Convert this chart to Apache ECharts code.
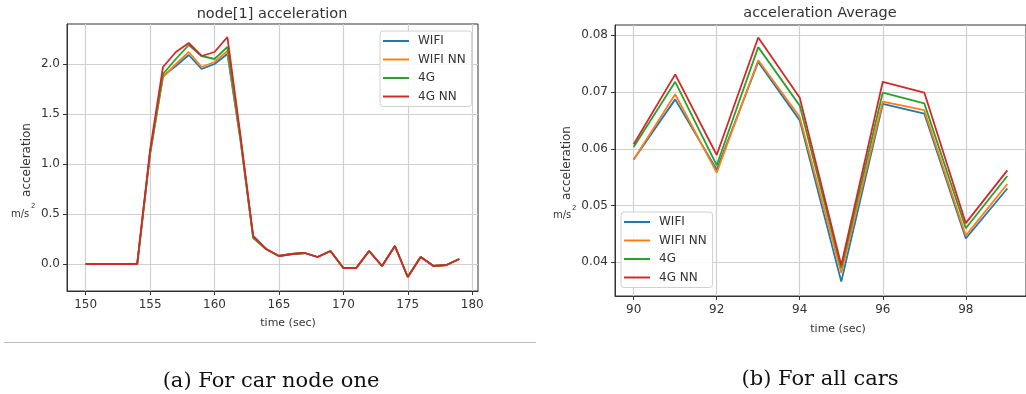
<!DOCTYPE html>
<html><head><meta charset="utf-8">
<script src="https://cdn.jsdelivr.net/npm/echarts@6/dist/echarts.min.js"></script>
<style>html,body{margin:0;padding:0;background:#fff}#c{width:1026px;height:394px}</style>
</head><body><div id="c"></div>
<script>
// ---- Left chart: node[1] acceleration ----
const timeA = [150,151,152,153,154,155,156,157,158,159,160,161,162,163,164,165,166,167,168,169,170,171,172,173,174,175,176,177,178,179];
const wifiA   = [0,0,0,0,0,1.10,1.88,1.98,2.09,1.95,2.00,2.10,1.25,0.27,0.15,0.08,0.10,0.11,0.07,0.13,-0.04,-0.04,0.13,-0.02,0.18,-0.13,0.07,-0.02,-0.01,0.05];
const wifiNNA = [0,0,0,0,0,1.11,1.87,2.00,2.12,1.97,2.02,2.13,1.26,0.27,0.15,0.08,0.10,0.11,0.07,0.13,-0.04,-0.04,0.13,-0.02,0.18,-0.13,0.07,-0.02,-0.01,0.05];
const g4A     = [0,0,0,0,0,1.12,1.90,2.05,2.19,2.08,2.05,2.17,1.27,0.26,0.15,0.08,0.10,0.11,0.07,0.13,-0.04,-0.04,0.13,-0.02,0.18,-0.13,0.07,-0.02,-0.01,0.05];
const g4NNA   = [0,0,0,0,0,1.14,1.97,2.12,2.21,2.08,2.12,2.27,1.30,0.28,0.15,0.08,0.10,0.11,0.07,0.13,-0.04,-0.04,0.13,-0.02,0.18,-0.13,0.07,-0.02,-0.01,0.05];
const xTicksA = [150,155,160,165,170,175,180];
const yTicksA = [0,0.5,1.0,1.5,2.0];

// ---- Right chart: acceleration Average ----
const timeB = [90,91,92,93,94,95,96,97,98,99];
const wifiB   = [0.0581,0.0687,0.0563,0.0753,0.0650,0.0366,0.0679,0.0662,0.0442,0.0530];
const wifiNNB = [0.0581,0.0696,0.0558,0.0756,0.0656,0.0381,0.0683,0.0668,0.0447,0.0538];
const g4B     = [0.0603,0.0718,0.0571,0.0779,0.0676,0.0390,0.0699,0.0680,0.0460,0.0552];
const g4NNB   = [0.0608,0.0731,0.0589,0.0796,0.0690,0.0395,0.0718,0.0699,0.0469,0.0562];
const xTicksB = [90,92,94,96,98];
const yTicksB = [0.04,0.05,0.06,0.07,0.08];

const seriesNames = ['WIFI','WIFI NN','4G','4G NN'];
const colors = ['#1f77b4','#ff7f0e','#2ca02c','#d62728'];

const FONT = 'DejaVu Sans';
const pair = (xs, ys) => xs.map((x, i) => [x, ys[i]]);

function makeAxisX(gridIndex, min, max, ticks) {
  return {
    type: 'value', gridIndex, min, max,
    axisLine: { show: true, onZero: false, lineStyle: { color: '#333', width: 1 } },
    axisTick: { show: true, length: 4, customValues: ticks, lineStyle: { color: '#333' } },
    axisLabel: { customValues: ticks, margin: 8, color: '#333', fontFamily: FONT, fontSize: 12 },
    splitLine: { show: true, lineStyle: { color: '#d0d0d0', width: 1.2 } }
  };
}
function makeAxisY(gridIndex, min, max, ticks, digits) {
  return {
    type: 'value', gridIndex, min, max,
    axisLine: { show: true, onZero: false, lineStyle: { color: '#333', width: 1 } },
    axisTick: { show: true, length: 4, customValues: ticks, lineStyle: { color: '#333' } },
    axisLabel: { customValues: ticks, margin: 7, color: '#333', fontFamily: FONT, fontSize: 12,
      formatter: v => v.toFixed(digits) },
    splitLine: { show: true, lineStyle: { color: '#d0d0d0', width: 1.2 } }
  };
}
function makeSeries(name, data, idx, color) {
  return {
    name, type: 'line', xAxisIndex: idx, yAxisIndex: idx, data,
    showSymbol: false, symbol: 'none', color,
    lineStyle: { width: 1.8, color }, z: 3
  };
}
const legendBase = {
  orient: 'vertical', data: seriesNames, icon: 'path://M0,0H40V3H0Z',
  itemWidth: 26, itemHeight: 12, itemGap: 6.5,
  backgroundColor: 'rgba(255,255,255,0.85)', borderColor: '#d0d0d0', borderWidth: 1, borderRadius: 3,
  textStyle: { fontFamily: FONT, fontSize: 12, color: '#333', padding: [0, 0, 0, 4] }
};

const chart = echarts.init(document.getElementById('c'));
chart.setOption({
  animation: false,
  backgroundColor: '#fff',
  grid: [
    { left: 67, top: 24, width: 411, height: 267, show: true, borderColor: '#333', borderWidth: 1, backgroundColor: 'transparent' },
    { left: 615, top: 25, width: 417, height: 271, show: true, borderColor: '#333', borderWidth: 1, backgroundColor: 'transparent' }
  ],
  xAxis: [ makeAxisX(0, 148.55, 180.45, xTicksA), makeAxisX(1, 89.55, 99.45, xTicksB) ],
  yAxis: [ makeAxisY(0, -0.27, 2.40, yTicksA, 1), makeAxisY(1, 0.03407, 0.0818, yTicksB, 2) ],
  legend: [
    Object.assign({}, legendBase, { left: 380, top: 31, padding: [4, 6, 4, 3] }),
    Object.assign({}, legendBase, { left: 621, top: 212, padding: [4, 6, 4, 3] })
  ],
  series: [
    makeSeries(seriesNames[0], pair(timeA, wifiA), 0, colors[0]),
    makeSeries(seriesNames[1], pair(timeA, wifiNNA), 0, colors[1]),
    makeSeries(seriesNames[2], pair(timeA, g4A), 0, colors[2]),
    makeSeries(seriesNames[3], pair(timeA, g4NNA), 0, colors[3]),
    makeSeries(seriesNames[0], pair(timeB, wifiB), 1, colors[0]),
    makeSeries(seriesNames[1], pair(timeB, wifiNNB), 1, colors[1]),
    makeSeries(seriesNames[2], pair(timeB, g4B), 1, colors[2]),
    makeSeries(seriesNames[3], pair(timeB, g4NNB), 1, colors[3])
  ],
  graphic: [
    { type: 'text', x: 272, y: 14, style: { text: 'node[1] acceleration', font: '14.5px "DejaVu Sans"', fill: '#333', align: 'center', verticalAlign: 'middle' } },
    { type: 'text', x: 820, y: 13, style: { text: 'acceleration Average', font: '14.5px "DejaVu Sans"', fill: '#333', align: 'center', verticalAlign: 'middle' } },
    { type: 'text', x: 288, y: 323, style: { text: 'time (sec)', font: '11px "DejaVu Sans"', fill: '#333', align: 'center', verticalAlign: 'middle' } },
    { type: 'text', x: 838, y: 329, style: { text: 'time (sec)', font: '11px "DejaVu Sans"', fill: '#333', align: 'center', verticalAlign: 'middle' } },
    { type: 'text', x: 27, y: 160, rotation: Math.PI / 2, style: { text: 'acceleration', font: '12px "DejaVu Sans"', fill: '#333', align: 'center', verticalAlign: 'middle' } },
    { type: 'text', x: 567, y: 163, rotation: Math.PI / 2, style: { text: 'acceleration', font: '12px "DejaVu Sans"', fill: '#333', align: 'center', verticalAlign: 'middle' } },
    { type: 'text', x: 11, y: 214, style: { text: 'm/s', font: '10px "DejaVu Sans"', fill: '#333', align: 'left', verticalAlign: 'middle' } },
    { type: 'text', x: 31, y: 206, style: { text: '2', font: '7px "DejaVu Sans"', fill: '#333', align: 'left', verticalAlign: 'middle' } },
    { type: 'text', x: 553, y: 215, style: { text: 'm/s', font: '10px "DejaVu Sans"', fill: '#333', align: 'left', verticalAlign: 'middle' } },
    { type: 'text', x: 572, y: 208, style: { text: '2', font: '7px "DejaVu Sans"', fill: '#333', align: 'left', verticalAlign: 'middle' } },
    { type: 'line', shape: { x1: 4, y1: 342.5, x2: 536, y2: 342.5 }, style: { stroke: '#bbb', lineWidth: 1 } },
    { type: 'text', x: 271, y: 382, style: { text: '(a) For car node one', font: '21px "DejaVu Serif"', fill: '#111', align: 'center', verticalAlign: 'middle' } },
    { type: 'text', x: 820, y: 380, style: { text: '(b) For all cars', font: '21px "DejaVu Serif"', fill: '#111', align: 'center', verticalAlign: 'middle' } }
  ]
});
</script>
</body></html>
